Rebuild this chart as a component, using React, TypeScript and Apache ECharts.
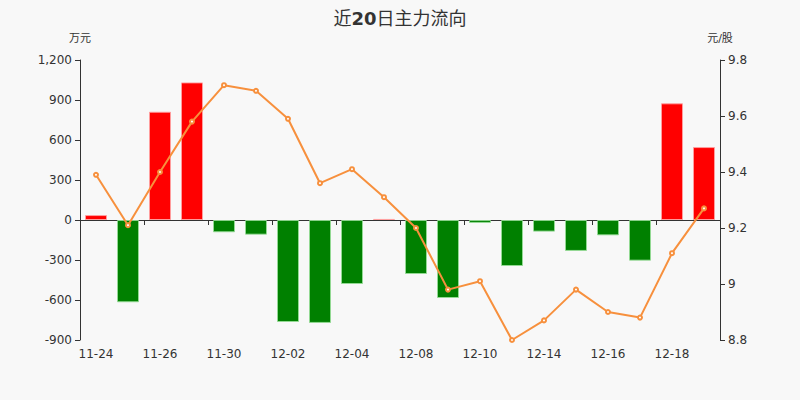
import React, { useEffect, useRef } from 'react'
import * as echarts from 'echarts'

const dates = [
  '11-24', '11-25', '11-26', '11-27', '11-30', '12-01', '12-02', '12-03', '12-04', '12-07',
  '12-08', '12-09', '12-10', '12-11', '12-14', '12-15', '12-16', '12-17', '12-18', '12-21'
]
// 主力净流入（万元）
const mainFlow = [
  37, -617, 812, 1032, -92, -110, -765, -772, -480, 8,
  -405, -585, -22, -345, -87, -232, -115, -305, 875, 547
]
// 收盘价（元/股）
const closePrice = [
  9.39, 9.21, 9.40, 9.58, 9.71, 9.69, 9.59, 9.36, 9.41, 9.31,
  9.20, 8.98, 9.01, 8.80, 8.87, 8.98, 8.90, 8.88, 9.11, 9.27
]

const textColor = '#333'
const font = 'DejaVu Sans, "Noto Sans CJK SC", sans-serif'

const App: React.FC = () => {
  const chartRef = useRef<HTMLDivElement>(null)

  useEffect(() => {
    if (!chartRef.current) return
    const chart = echarts.init(chartRef.current, undefined, { renderer: 'svg' })

    const option: echarts.EChartsOption = {
      animation: false,
      backgroundColor: '#f8f8f8',
      textStyle: { fontFamily: font },
      title: {
        text: '{n|近}{b|20}{n|日主力流向}',
        left: 'center',
        top: 4,
        textStyle: {
          fontSize: 18,
          fontWeight: 'normal',
          color: textColor,
          fontFamily: font,
          rich: {
            n: { fontSize: 18, fontWeight: 'normal', color: textColor, fontFamily: font },
            b: { fontSize: 18, fontWeight: 'bold', color: textColor, fontFamily: font }
          }
        }
      },
      grid: { left: 80, right: 80, top: 60, bottom: 60 },
      xAxis: [
        {
          type: 'category',
          data: dates,
          axisLine: { onZero: true, lineStyle: { color: textColor } },
          axisTick: { show: true, interval: 1 },
          axisLabel: { show: false }
        },
        {
          type: 'category',
          data: dates,
          position: 'bottom',
          axisLine: { show: false, onZero: false },
          axisTick: { show: false },
          axisLabel: { interval: 1, color: textColor, fontSize: 12, margin: 8 }
        }
      ],
      yAxis: [
        {
          type: 'value',
          name: '万元',
          nameGap: 16,
          nameTextStyle: { color: textColor, fontSize: 11, align: 'center' },
          min: -900,
          max: 1200,
          interval: 300,
          splitLine: { show: false },
          axisLine: { show: true, lineStyle: { color: textColor } },
          axisTick: { show: true },
          axisLabel: { color: textColor, fontSize: 12 }
        },
        {
          type: 'value',
          name: '元/股',
          nameGap: 16,
          nameTextStyle: { color: textColor, fontSize: 11, align: 'center' },
          min: 8.8,
          max: 9.8,
          interval: 0.2,
          splitLine: { show: false },
          axisLine: { show: true, lineStyle: { color: textColor } },
          axisTick: { show: true },
          axisLabel: { color: textColor, fontSize: 12 }
        }
      ],
      series: [
        {
          type: 'bar',
          xAxisIndex: 0,
          yAxisIndex: 0,
          barWidth: 22,
          data: mainFlow.map(v => ({
            value: v,
            itemStyle: {
              color: v >= 0 ? '#ff0000' : '#008000',
              borderColor: v >= 0 ? 'rgba(255,160,160,0.9)' : 'rgba(150,220,150,0.9)',
              borderWidth: 1
            }
          }))
        },
        {
          type: 'line',
          xAxisIndex: 0,
          yAxisIndex: 1,
          data: closePrice,
          symbol: 'emptyCircle',
          symbolSize: 4,
          lineStyle: { color: '#f7903d', width: 2 },
          itemStyle: { color: '#f7903d', borderWidth: 1 }
        }
      ]
    }

    chart.setOption(option)
    return () => {
      chart.dispose()
    }
  }, [])

  return (
    <div
      ref={chartRef}
      style={{ position: 'fixed', left: 0, top: 0, width: 800, height: 400 }}
    />
  )
}

export default App
